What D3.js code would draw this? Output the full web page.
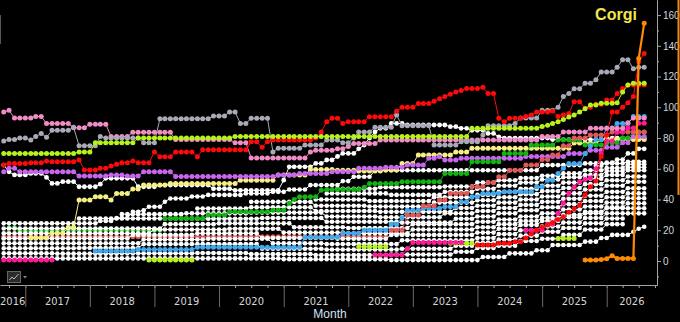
<!DOCTYPE html>
<html>
<head>
<meta charset="utf-8">
<script src="https://d3js.org/d3.v7.min.js"></script>
<style>
body { margin: 0; background: #000; }
svg { display: block; }
.axis .domain, .axis line { stroke: #a3a3a3; }
.sep line { stroke: #6a6a6a; }
.sep .domain { display: none; }
.y text { font-family: "Liberation Sans", Arial, sans-serif; font-size: 10px; fill: #cfd6dd; }
.yearlabel { font-family: "Liberation Sans Narrow", "Arial Narrow", "DejaVu Sans Condensed", sans-serif; font-size: 11px; fill: #d6d6d6; }
.axestext { font-family: "Liberation Sans", Arial, sans-serif; font-size: 12px; fill: #d4e4f4; }
</style>
</head>
<body>
<div id="visualisation"></div>
<script>
// each series: runs of [value, months], null = no point; months start Sep 2016
var firstMonth = new Date(2016, 8, 1);

var pink = [[97,1],[98,1],[93,4],[94,2],[89.5,5],[86.7,3],[89,4],[81,4],[83.7,8],[79,11],[77,3],[67,11],[71,1],[72,4],[73,2],[74.5,1],[76.5,5],[78.7,30],[81,4],[84,5],[86.3,7],[90,1],[93,3]];
var gray = [[78,1],[79,2],[80,2],[78.7,1],[81,1],[83,1],[80.5,1],[85,4],[87,1],[75,4],[81,1],[80,7],[77,3],[92.5,10],[94.3,3],[97,2],[89.5,2],[92.8,4],[71,1],[73.3,5],[75.4,4],[78.7,3],[77,2],[80,1],[84,3],[87,4],[95,1],[88,6],[75.4,5],[77.6,4],[82,1],[88,5],[89.5,1],[93,4],[98,3],[100,1],[107,1],[109,1],[112,2],[115.6,2],[118,1],[123,3],[126,1],[131,2],[125,1],[126,2]];
var lime = [[70,14],[71,3],[77,8],[80,18],[81,44],[86.3,13],[87.5,1],[88.4,1],[89.5,1],[90.6,1],[92,1],[93.7,1],[95,1],[97,1],[99,1],[101.5,2],[102.7,3],[103,1],[110,1],[114.5,1],[115.6,3]];
var red = [[62.4,1],[63.5,4],[64,3],[65,1],[64.6,5],[65.7,1],[59.2,3],[60.3,2],[61.8,1],[63,1],[64,2],[65,1],[64,3],[71,1],[67.8,3],[71,4],[67.8,1],[72.4,9],[77.6,2],[74,1],[77.6,1],[78.7,8],[80,1],[84,1],[90.6,1],[92.8,2],[89.5,1],[90.6,4],[93.9,5],[97.5,1],[100,3],[102.5,3],[104,1],[105.5,1],[107,1],[108.5,1],[110,1],[111,1],[112.3,3],[113,1],[109,2],[92.8,1],[90.6,1],[92.8,3],[94,1],[95,1],[97,3],[97.6,1],[94,1],[95,1],[96,1],[103.6,2],[99.3,1],[100,1],[102,2],[104.7,2],[109,1],[112.3,1],[114.5,4]];
var purple = [[58,1],[60.3,2],[58,11],[55.3,6],[56,3],[55.3,3],[58,6],[55,19],[56,4],[57,6],[58,5],[60.3,5],[61,4],[62.4,4],[66.8,2],[67.8,1],[65.7,3],[66.8,12],[68,8],[70,4],[72,3],[74,3],[77,2],[81,3]];
var yellow = [[null,5],[15.2,4],[18,3],[22,2],[39.7,3],[41.8,3],[39.7,1],[44,3],[46.8,2],[49.4,5],[50.5,13],[52.6,7],[56,6],[59.6,5],[59,4],[58.5,5],[59.2,3],[63.5,3],[69,7],[71,3],[73.3,19],[76.7,5],[79,9]];
var green = [[null,30],[27.7,8],[30,4],[32,8],[33,3],[37.5,1],[40,1],[41.8,4],[46,1],[46.5,7],[48,1],[50.5,6],[51.6,8],[57,5],[64.6,6],[70,5],[75.4,5],[78.7,5],[75.4,4],[77,3],[80,2],[84,3]];
var greenLow = [[15,1],[21.7,2],[19.5,5],[20,22]];
var blue = [[null,17],[6.5,8],[7.5,11],[9,20],[15.5,7],[18,4],[20,5],[24,2],[28,1],[33,3],[34.3,4],[35.3,3],[38.6,2],[41.8,2],[44,4],[45,6],[48.3,2],[52.6,2],[57,1],[60.3,1],[63.5,3],[70,1],[75,1],[79,2],[86.5,2],[89.5,3],[94,3]];
var salmon = [[null,72],[20,3],[30,3],[36,3],[39.7,2],[44,4],[48.3,3],[51,2],[54.8,2],[59,3],[62.4,3],[66,2],[69,2],[75,2],[80,3],[82,4],[84,7]];
var salmonLow = [[15.8,72]];
var hotPink = [[0.6,10],[null,59],[3.9,6],[8,1],[12,10],[null,11],[20,4],[24,2],[31,1],[37.5,1],[44,1],[48,1],[51.6,1],[53,1],[54,1],[60,1],[70,1],[78,2],[84,2],[86.5,2],[89.7,2]];
var limeLow = [[null,27],[0.6,9],[null,30],[9.3,6],[null,11],[11.5,5],[null,15],[14.7,4]];
var red2 = [[null,88],[10.4,4],[11.5,3],[12.6,2],[15,1],[17.5,1],[20,1],[22,1],[23.4,1],[25,1],[27,1],[28.8,1],[31.7,1],[34,1],[36.4,1],[43,1],[48.3,1],[52,1],[68,1],[82,1],[97,2],[100,1],[103,1],[107,1],[129.6,1],[135,1]];
var corgi = [[null,108],[0.6,3],[1,1],[1.5,1],[3.4,1],[1.7,4],[131.8,1],[154.6,1]];

// white lines above the band
var whiteA = [[62.4,1],[58,1],[56,3],[57,3],[54.4,1],[50.5,2],[51.6,3],[48.3,4],[50,1],[53.8,6],[48.3,4],[49.4,10],[47,4],[46,9],[52.6,1],[61.3,5],[63.5,2],[65.7,2],[68,1],[70,3],[73,1],[75.4,1],[80,1],[84,1],[86.3,2],[89.5,3],[88.5,8],[87.4,2],[86.3,2],[85,3],[83,2],[80.8,1],[80,9],[79,10],[80,8]];
var whiteB = [[24.5,18],[26,3],[28,3],[32,2],[33,1],[35.3,3],[38.6,1],[40.7,4],[42,3],[43,7],[44,5],[45,3],[46.5,4],[49.4,6],[52,2],[54.8,4],[59,31],[62.4,8],[63.5,8],[64.6,4]];
var whiteC = [[null,110],[62,2],[64,2],[66,2],[70,2],[73,2]];

// the white band, bottom row first
var whiteRows = [
    [[1.7,52],[1.2,20],[0.6,17],[2.6,5],[5,5],[7,3],[10.4,6],[12.6,3],[15,2],[17,4],[19,1],[21,1],[22.3,1]],
    [[5,10],[4.8,12],[5,14],[5.2,10],[4.5,12],[3.9,14],[4.2,12],[6,4],[8.5,4],[10,4],[13,4],[14.5,4],[17,4],[20.5,4],[24,4]],
    [[8.3,14],[8.5,12],[11,22],[8,12],[7.5,14],[8,10],[10,4],[12,4],[14,4],[16.5,4],[19,4],[21.5,4],[24.5,4],[27.7,4]],
    [[11.5,26],[14,12],[14.5,12],[11.5,10],[11,14],[13.5,14],[15,4],[17.5,4],[20,4],[22.5,4],[25,4],[28,4],[31,8]],
    [[14.7,24],[17,12],[18,12],[15,14],[14.5,10],[17,16],[18.5,4],[21,4],[23.5,4],[26,4],[28.5,4],[31,4],[34.3,8]],
    [[18,28],[20.5,14],[21,10],[18.5,12],[18,12],[20.5,12],[22,4],[24,4],[26,4],[28,4],[30,4],[32,4],[35,4],[37.5,4]],
    [[21.2,30],[24,10],[24.5,14],[22,10],[21.5,12],[24,12],[25.5,4],[27,4],[29,4],[31,4],[33.5,4],[35.5,4],[38,4],[40.8,4]],
    [[null,14],[27.7,22],[27.5,12],[28,12],[25.5,14],[25,10],[27.5,4],[29,4],[31,4],[33,4],[35,4],[37,4],[39,4],[41.5,4],[44,4]],
    [[null,22],[30.5,12],[31,12],[31.5,14],[29,10],[28.5,12],[31,6],[32.5,4],[34.5,4],[36.5,4],[38.5,4],[40.5,4],[42.5,4],[45,4],[47.3,4]],
    [[null,36],[34.2,10],[35,12],[32.5,12],[32,14],[34.5,4],[36,4],[38,4],[40,4],[42,4],[44,4],[46.5,4],[49,4],[51.6,4]],
    [[null,46],[38.5,12],[36,10],[35.5,12],[38,8],[39.5,4],[41.5,4],[43.5,4],[45.5,4],[47.5,4],[50,4],[52.5,4],[55,4]],
    [[null,58],[40,10],[39,12],[41.5,8],[43,4],[45,4],[47,4],[49,4],[51,4],[53.5,4],[56,4],[59,4]],
    [[null,60],[44,12],[43,10],[45,6],[47,4],[49,4],[51,4],[53,4],[54.5,4],[56,4],[58.5,4],[61,4]],
    [[null,62],[47,8],[48,12],[48.5,6],[51,4],[52.5,4],[54,4],[55.5,4],[57,4],[59,4],[60.5,4],[63,4]]
];

var yMajor = [0, 20, 40, 60, 80, 100, 120, 140, 160];
var yMinor = [-10, 10, 30, 50, 70, 90, 110, 130, 150];
var years = [2016, 2017, 2018, 2019, 2020, 2021, 2022, 2023, 2024, 2025, 2026];

var expand = function (runs) {
    var out = [];
    var i = 0;
    runs.forEach(function (r) {
        for (var k = 0; k < r[1]; k++) {
            out.push({ t: d3.timeMonth.offset(firstMonth, i), v: r[0] });
            i++;
        }
    });
    return out;
}

var width = 680;
var height = 322;
var plotRight = 657;
var plotBottom = 285;

var msPerPx = (new Date(2026, 0, 1) - new Date(2017, 0, 1)) / (606.7 - 25.3);
var xStart = new Date(+new Date(2017, 0, 1) - 25.3 * msPerPx);
var xEnd = new Date(+new Date(2026, 0, 1) + (plotRight - 606.7) * msPerPx);

var xScale = d3.scaleTime()
    .domain([xStart, xEnd])
    .range([0, plotRight]);

var yScale = d3.scaleLinear()
    .domain([-15.6, 169.8])
    .range([plotBottom, 0]);

var vis = d3.select("#visualisation")
    .append("svg")
        .attr("width", width)
        .attr("height", height);

vis.append("rect")
    .attr("width", width)
    .attr("height", height)
    .attr("fill", "#000");

var line = d3.line()
    .defined(function (d) { return d.v !== null; })
    .x(function (d) { return xScale(d.t); })
    .y(function (d) { return yScale(d.v); });

var drawSeries = function (runs, color, lw, r) {
    var data = expand(runs);
    var g = vis.append("g");
    g.append("path")
        .datum(data)
        .attr("d", line)
        .attr("fill", "none")
        .attr("stroke", color)
        .attr("stroke-width", lw || 1);
    g.selectAll("circle")
        .data(data.filter(function (d) { return d.v !== null; }))
        .enter().append("circle")
            .attr("cx", function (d) { return xScale(d.t); })
            .attr("cy", function (d) { return yScale(d.v); })
            .attr("r", r || 2.5)
            .attr("fill", color);
}

// under the white band
drawSeries(greenLow, "#12b312");
drawSeries(salmonLow, "#e05858");

whiteRows.forEach(function (row) {
    drawSeries(row, "#ffffff", 1, 2.3);
});
drawSeries(whiteB, "#ffffff", 1, 2.3);
drawSeries(whiteA, "#ffffff", 1, 2.4);
drawSeries(whiteC, "#ffffff", 1, 2.4);

drawSeries(limeLow, "#b6f21c");
drawSeries(yellow, "#f6ef84");
drawSeries(purple, "#c965ef");
drawSeries(green, "#12b312");
drawSeries(blue, "#41a9ee");
drawSeries(salmon, "#e05858");
drawSeries(hotPink, "#ff1a98");
drawSeries(red2, "#ff0a0a");
drawSeries(pink, "#f28cc6");
drawSeries(gray, "#a8aab8");
drawSeries(red, "#ff0a0a");
drawSeries(lime, "#b6f21c");
drawSeries(corgi, "#ff8a00", 2.2);

vis.append("text")
    .attr("x", 616)
    .attr("y", 20)
    .attr("text-anchor", "middle")
    .style("font-family", "'Liberation Sans', Arial, sans-serif")
    .style("font-weight", "bold")
    .style("font-size", "16px")
    .style("fill", "#f2e64a")
    .text("Corgi");

// AXES

vis.append("g")
    .attr("class", "x axis")
    .attr("transform", "translate(0," + plotBottom + ")")
    .call(d3.axisBottom(xScale)
        .tickValues(d3.timeMonth.every(3).range(xStart, xEnd))
        .tickSize(3)
        .tickSizeOuter(0)
        .tickFormat(""));

vis.append("g")
    .attr("class", "sep")
    .attr("transform", "translate(0," + plotBottom + ")")
    .call(d3.axisBottom(xScale)
        .tickValues(d3.timeYear.range(xStart, xEnd))
        .tickSize(22)
        .tickFormat(""));

vis.selectAll(".yearlabel")
    .data(years)
    .enter().append("text")
        .attr("class", "yearlabel")
        .attr("text-anchor", "middle")
        .attr("x", function (d) {
            var a = Math.max(0, xScale(new Date(d, 0, 1)));
            var b = Math.min(plotRight, xScale(new Date(d + 1, 0, 1)));
            return (a + b) / 2;
        })
        .attr("y", 305)
        .text(function (d) { return d; });

vis.append("text")
    .attr("class", "axestext")
    .attr("text-anchor", "middle")
    .attr("x", 330)
    .attr("y", 318)
    .text("Month");

vis.append("g")
    .attr("class", "y axis")
    .attr("transform", "translate(" + plotRight + ",0)")
    .call(d3.axisRight(yScale)
        .tickValues(yMinor)
        .tickSize(2)
        .tickSizeOuter(0)
        .tickFormat(""));

vis.append("g")
    .attr("class", "y axis")
    .attr("transform", "translate(" + plotRight + ",0)")
    .call(d3.axisRight(yScale)
        .tickValues(yMajor)
        .tickSize(4)
        .tickSizeOuter(0)
        .tickPadding(2));

// scroll marker and chart-type button
vis.append("line")
    .attr("x1", 678.5).attr("x2", 678.5)
    .attr("y1", 0).attr("y2", 195)
    .attr("stroke", "#f08a10")
    .attr("stroke-width", 2);

vis.append("line")
    .attr("x1", 0.5).attr("x2", 0.5)
    .attr("y1", 15).attr("y2", 44)
    .attr("stroke", "#555");

vis.append("rect")
    .attr("x", 7.5).attr("y", 271.5)
    .attr("width", 13).attr("height", 11)
    .attr("fill", "#2b2b2b")
    .attr("stroke", "#666");

vis.append("path")
    .attr("d", "M9.5,280 L12,277 L14,279 L18.5,274")
    .attr("fill", "none")
    .attr("stroke", "#bbb");

vis.append("path")
    .attr("d", "M23,276 L27,276 L25,278.5 Z")
    .attr("fill", "#888");
</script>
</body>
</html>
